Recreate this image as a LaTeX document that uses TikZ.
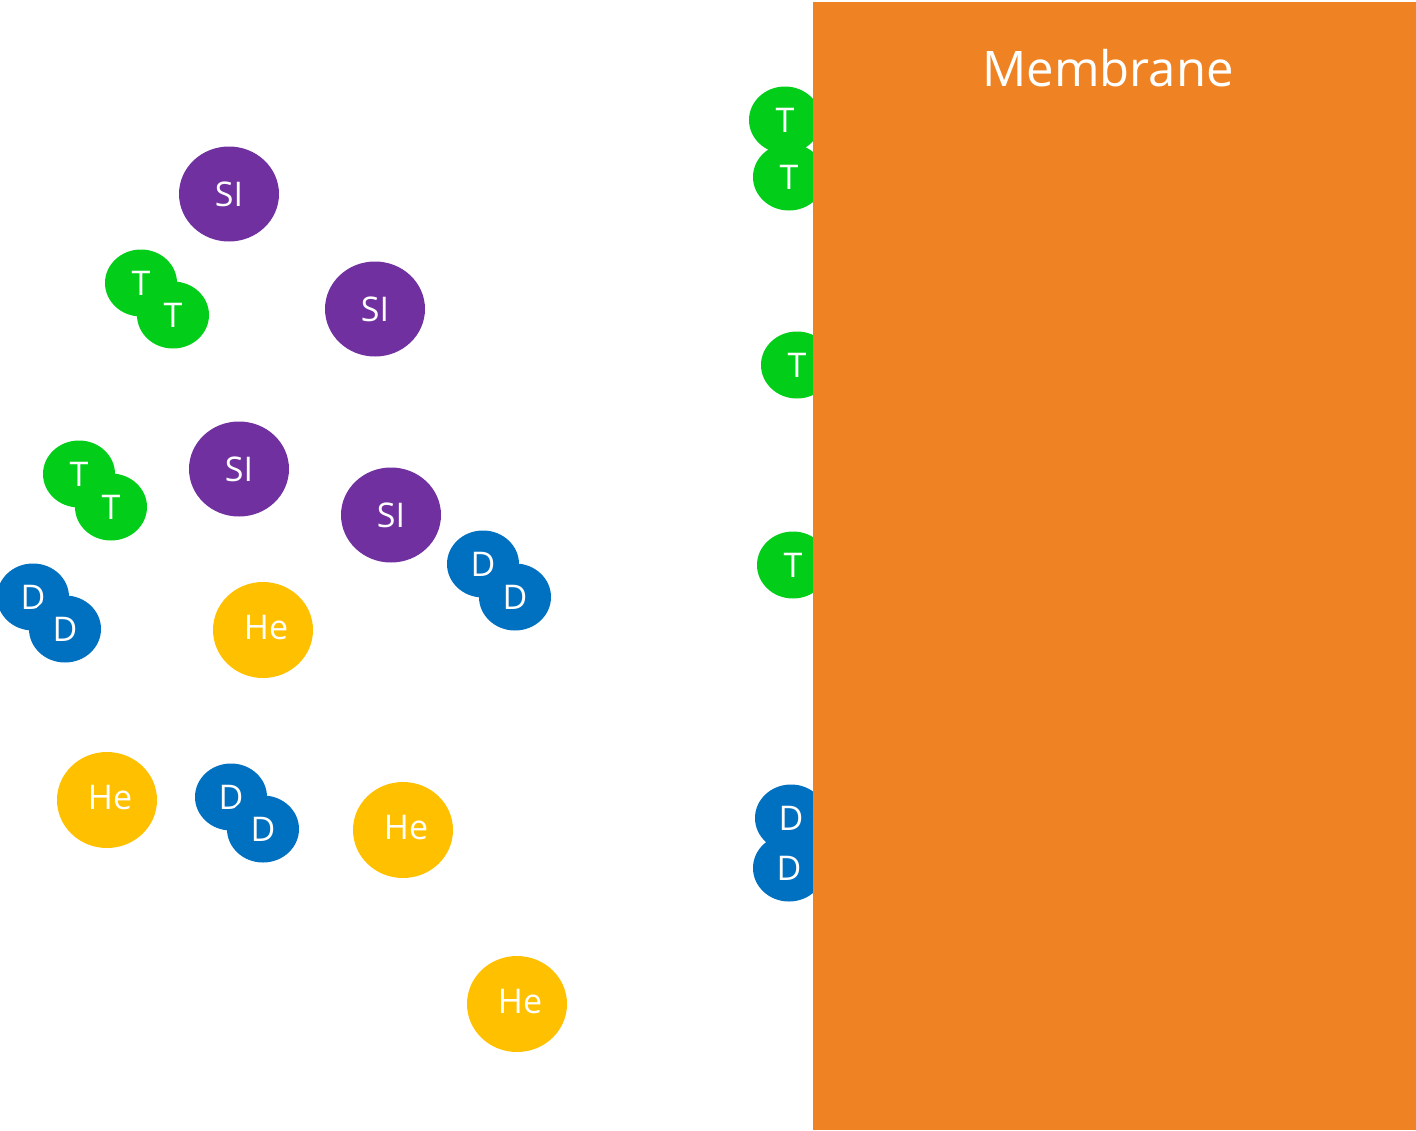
\documentclass[tikz,border=0pt]{standalone}
\usepackage{fontspec}
\setmainfont{Open Sans}
\usetikzlibrary{shapes.geometric}
\definecolor{memorange}{RGB}{239,131,35}
\definecolor{sipurple}{RGB}{112,48,160}
\definecolor{tgreen}{RGB}{2,206,26}
\definecolor{dblue}{RGB}{0,112,192}
\definecolor{heyellow}{RGB}{255,192,0}
\tikzset{
  particle/.style={ellipse,inner sep=0pt,text=white,font=\fontsize{34}{40}\selectfont},
  sibox/.style={particle,fill=sipurple,minimum width=100pt,minimum height=95pt},
  hebox/.style={particle,fill=heyellow,minimum width=100pt,minimum height=96pt},
  tbox/.style={particle,fill=tgreen,minimum width=72pt,minimum height=67pt},
  dbox/.style={particle,fill=dblue,minimum width=72pt,minimum height=67pt},
}
\begin{document}
\begin{tikzpicture}[x=1pt,y=-1pt]
\useasboundingbox (0,0) rectangle (1416,1130);
% purple SI
\node[sibox] (si1) at (229,194) {SI};
\node[sibox] (si2) at (375,309) {SI};
\node[sibox] (si3) at (239,469) {SI};
\node[sibox] (si4) at (391,515) {SI};
% left T pairs
\node[tbox] (t1) at (141,283) {T};
\node[tbox] (t2) at (173,315) {T};
\node[tbox] (t3) at (79,474) {T};
\node[tbox] (t4) at (111,507) {T};
% left D pairs
\node[dbox] (d1) at (33,597) {D};
\node[dbox] (d2) at (65,629) {D};
\node[dbox] (d3) at (483,564) {D};
\node[dbox] (d4) at (515,597) {D};
\node[dbox] (d5) at (231,797) {D};
\node[dbox] (d6) at (263,829) {D};
% He
\node[hebox] (he1) at (263,630) {\raisebox{5pt}{\hspace*{6pt}He}};
\node[hebox] (he2) at (107,800) {\raisebox{5pt}{\hspace*{6pt}He}};
\node[hebox] (he3) at (403,830) {\raisebox{5pt}{\hspace*{6pt}He}};
\node[hebox] (he4) at (517,1004) {\raisebox{5pt}{\hspace*{6pt}He}};
% particles at the membrane
\node[tbox] (t5) at (785,120) {T};
\node[tbox] (t6) at (789,177) {T};
\node[tbox] (t7) at (797,365) {T};
\node[tbox] (t8) at (793,565) {T};
\node[dbox] (d7) at (791,818) {D};
\node[dbox] (d8) at (789,868) {D};
% membrane
\fill[memorange] (813,2) rectangle (1416,1130);
\node[text=white,font=\fontsize{49}{58}\selectfont] (mem) at (1108,68) {Membrane};
\end{tikzpicture}
\end{document}
